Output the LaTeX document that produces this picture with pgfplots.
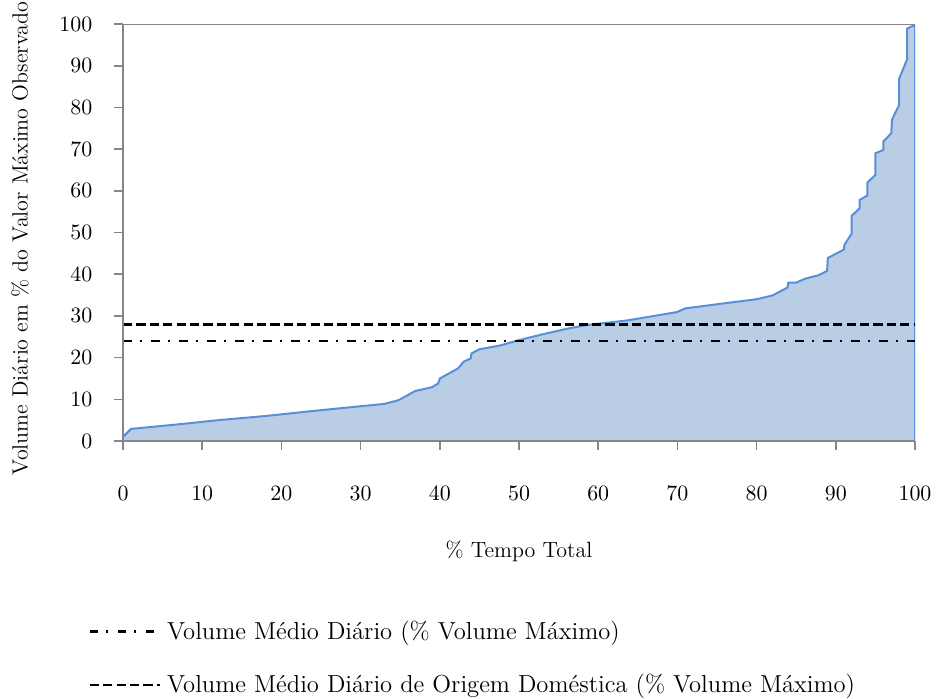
\documentclass[border=0pt]{standalone}
\usepackage{fontspec}
\usepackage{pgfplots}
\pgfplotsset{compat=1.18}
\definecolor{areafill}{HTML}{B9CDE5}
\definecolor{arealine}{HTML}{588FD9}
\definecolor{axgray}{HTML}{868686}
\begin{document}
\fontsize{11}{13.5}\selectfont
\begin{tikzpicture}
\useasboundingbox (-61.5pt,-128.5pt) rectangle (407pt,220.5pt);
\begin{axis}[
  at={(0,0)}, anchor=south west,
  scale only axis,
  width=396pt, height=208.5pt,
  xmin=0, xmax=100, ymin=0, ymax=100,
  axis lines*=left,
  axis on top,
  axis line style={axgray, line width=0.8pt},
  xtick={0,10,...,100}, ytick={0,10,...,100},
  tick align=outside,
  major tick length=4.5pt,
  tick style={axgray, line width=0.8pt},
  xticklabel shift=14.5pt,
  yticklabel shift=7pt,
  xlabel={\% Tempo Total},
  ylabel={Volume Diário em \% do Valor Máximo Observado},
  xlabel style={at={(axis description cs:0.5,-0.264)}, anchor=center},
  ylabel style={at={(axis description cs:-0.130,0.485)}, anchor=center},
  legend cell align=left,
  legend style={draw=none, fill=none, at={(-0.044,-0.42)}, anchor=north west,
    row sep=12pt, inner sep=0pt, font=\fontsize{12.3}{14}\selectfont,
    /tikz/every odd column/.append style={column sep=1pt}},
  legend image code/.code={\draw[#1] (0pt,0pt) -- (35pt,0pt);},
]
% area under the duration curve
\addplot[fill=areafill, draw=none, forget plot] coordinates {
 (0,1) (1,2.9) (7,4) (12,5) (18,6) (25,7.4) (33,8.9) (34.8,9.8) (36.9,12)
 (39,12.9) (39.8,13.8) (40,15) (42.3,17.4) (43,19) (43.9,19.8) (44,21) (45,22)
 (47.6,22.9) (50,24.2) (53,25.6) (56,26.9) (58.5,27.8) (63.6,28.9) (69.9,30.9)
 (71,31.8) (75,32.8) (80,34) (82,34.9) (83.9,36.8) (84,38) (85,38) (86.1,38.9)
 (87.9,39.8) (88.9,40.8) (89,43.9) (91,45.9) (91.1,47.1) (92,49.7) (92,54)
 (93,55.8) (93,57.8) (94,58.9) (94,62) (95,63.8) (95,69) (96,69.8) (96,71.8)
 (97,73.8) (97.1,77.1) (98,80.6) (98,86.9) (99,91.5) (99,98.9) (100,99.8) (100,0)
} \closedcycle;
\addplot[arealine, line width=1pt, forget plot] coordinates {
 (0,1) (1,2.9) (7,4) (12,5) (18,6) (25,7.4) (33,8.9) (34.8,9.8) (36.9,12)
 (39,12.9) (39.8,13.8) (40,15) (42.3,17.4) (43,19) (43.9,19.8) (44,21) (45,22)
 (47.6,22.9) (50,24.2) (53,25.6) (56,26.9) (58.5,27.8) (63.6,28.9) (69.9,30.9)
 (71,31.8) (75,32.8) (80,34) (82,34.9) (83.9,36.8) (84,38) (85,38) (86.1,38.9)
 (87.9,39.8) (88.9,40.8) (89,43.9) (91,45.9) (91.1,47.1) (92,49.7) (92,54)
 (93,55.8) (93,57.8) (94,58.9) (94,62) (95,63.8) (95,69) (96,69.8) (96,71.8)
 (97,73.8) (97.1,77.1) (98,80.6) (98,86.9) (99,91.5) (99,98.9) (100,99.8) (100,0)
};
\addplot[black, line width=1.3pt, dash pattern=on 4.3pt off 4pt on 1pt off 4.7pt]
  coordinates {(0,24) (100,24)};
\addlegendentry{Volume Médio Diário (\% Volume Máximo)}
\addplot[black, line width=1.3pt, dash pattern=on 4.6pt off 2.1pt]
  coordinates {(0,28) (100,28)};
\addlegendentry{Volume Médio Diário de Origem Doméstica (\% Volume Máximo)}
\draw[axgray, line width=0.8pt] (rel axis cs:0,1) -- (rel axis cs:1,1);
\end{axis}
\end{tikzpicture}
\end{document}
